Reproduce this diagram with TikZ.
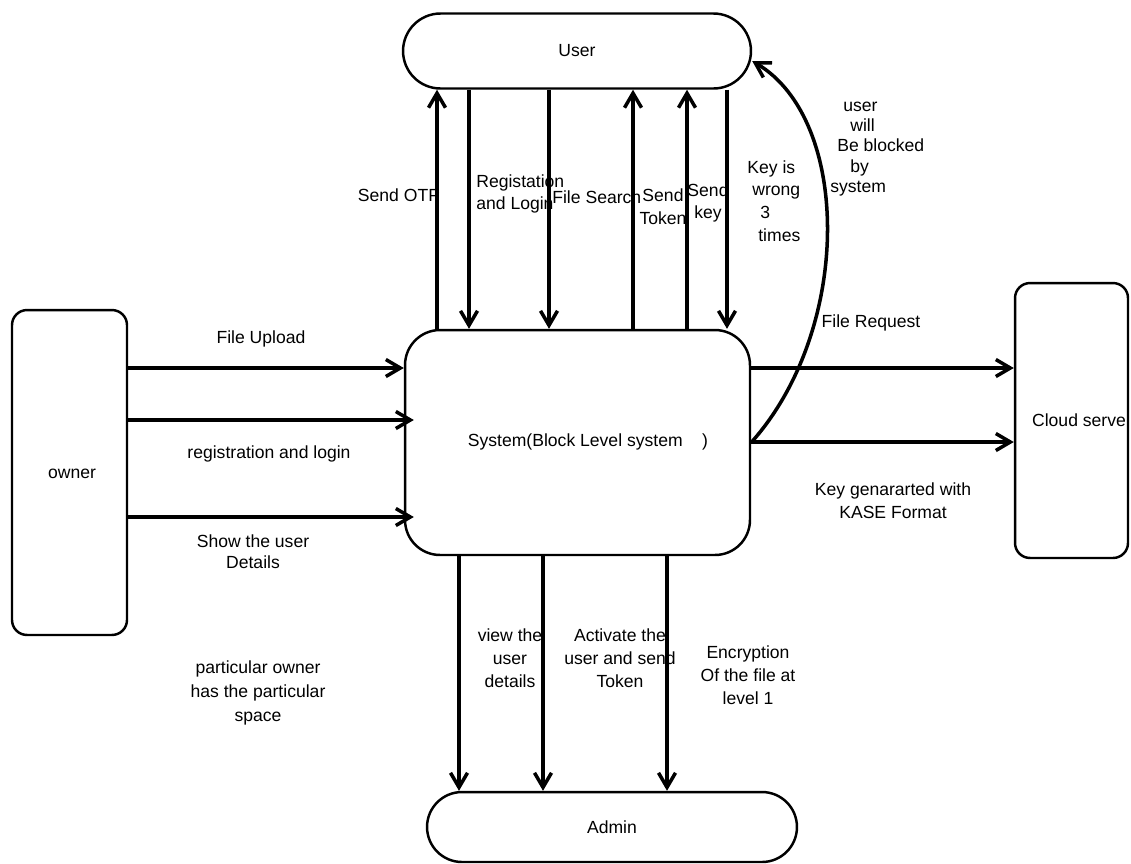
\documentclass[tikz,border=0pt]{standalone}
\usepackage{fontspec}
\setmainfont{Liberation Sans}
\usepackage{tikz}
\usetikzlibrary{arrows.meta}

\begin{document}
\begin{tikzpicture}[
  x=0.02cm,y=-0.02cm,
  font=\fontsize{10}{13}\selectfont,
  box/.style={draw,line width=1.4pt,align=center},
  ar/.style={-{Straight Barb[length=2.9mm,width=3.4mm]},line width=2pt},
  lbl/.style={align=center,inner sep=0pt}
]
\useasboundingbox (0,0) rectangle (1131,863);
% entities
\node[box,minimum width=6.96cm,minimum height=1.5cm,rounded corners=0.75cm] (user) at (577,51) {User};
\node[box,minimum width=6.9cm,minimum height=4.5cm,rounded corners=0.7cm] (sys) at (577.5,442.5) {};
\node[lbl] (systxt) at (588,442) {System(Block Level system\ \ \ \ )};
\node[box,minimum width=2.3cm,minimum height=6.5cm,rounded corners=0.3cm] (owner) at (69.5,472.5) {};
\node[lbl] (ownertxt) at (72,474) {owner};
\node[box,inner xsep=0pt,minimum width=2.26cm,minimum height=5.5cm,rounded corners=0.3cm] (cloud) at (1071.5,420.5) {\hspace*{0.3cm}Cloud serve};
\node[box,minimum width=7.4cm,minimum height=1.4cm,rounded corners=0.7cm] (admin) at (612,827) {Admin};

% user <-> system
\draw[ar] (sys.north -| 437,0) -- (user.south -| 437,0);
\draw[ar] (user.south -| 469,0) -- (sys.north -| 469,0);
\draw[ar] (user.south -| 549,0) -- (sys.north -| 549,0);
\draw[ar] (sys.north -| 633,0) -- (user.south -| 633,0);
\draw[ar] (sys.north -| 687,0) -- (user.south -| 687,0);
\draw[ar] (user.south -| 727,0) -- (sys.north -| 727,0);
\draw[ar] (sys.east) .. controls (852,330) and (852,120) .. ([yshift=-0.2cm]user.east);
\node[lbl] (l1) at (399,195) {Send OTP};
\node[lbl,align=left,anchor=west] (l2) at (476,194) {Registation\\and Login};
\node[lbl,anchor=west] (l3) at (552,197) {File Search};
\node[lbl] (l4) at (663,207) {Send\\Token};
\node[lbl] (l5) at (708,203) {Send\\key};
\node[lbl,align=left,anchor=west] (l6) at (747,201)
  {Key is\\\hspace*{0.1cm}wrong\\\hspace*{0.26cm}3\\\hspace*{0.22cm}times};
\node[lbl,align=left,anchor=west,font=\fontsize{10}{11.5}\selectfont] (l7) at (830,149)
  {\hspace*{0.26cm}user\\\hspace*{0.4cm}will\\\hspace*{0.14cm}Be blocked\\\hspace*{0.4cm}by\\system};

% owner -> system
\draw[ar] (owner.east |- 0,368) -- (sys.west |- 0,368);
\draw[ar,shorten >=-0.2cm] (owner.east |- 0,420) -- (sys.west |- 0,420);
\draw[ar,shorten >=-0.2cm] (owner.east |- 0,517) -- (sys.west |- 0,517);
\node[lbl] (o1) at (261,339) {File Upload};
\node[lbl] (o2) at (269,454) {registration and login};
\node[lbl,font=\fontsize{10}{12}\selectfont] (o3) at (253,552) {Show the user\\Details};
\node[lbl,font=\fontsize{10}{13.5}\selectfont] (o4) at (258,693) {particular owner\\has the particular\\space};

% system -> cloud
\draw[ar] (sys.east |- 0,368) -- (cloud.west |- 0,368);
\draw[ar] (sys.east |- 0,442) -- (cloud.west |- 0,442);
\node[lbl] (c1) at (871,323) {File Request};
\node[lbl] (c2) at (893,501) {Key genararted with\\KASE Format};

% system -> admin
\draw[ar] (sys.south -| 459,0) -- (admin.north -| 459,0);
\draw[ar] (sys.south -| 543,0) -- (admin.north -| 543,0);
\draw[ar] (sys.south -| 667,0) -- (admin.north -| 667,0);
\node[lbl] (a1) at (510,658) {view the\\user\\details};
\node[lbl] (a2) at (620,658) {Activate the\\user and send\\Token};
\node[lbl] (a3) at (748,675) {Encryption\\Of the file at\\level 1};
\end{tikzpicture}
\end{document}
